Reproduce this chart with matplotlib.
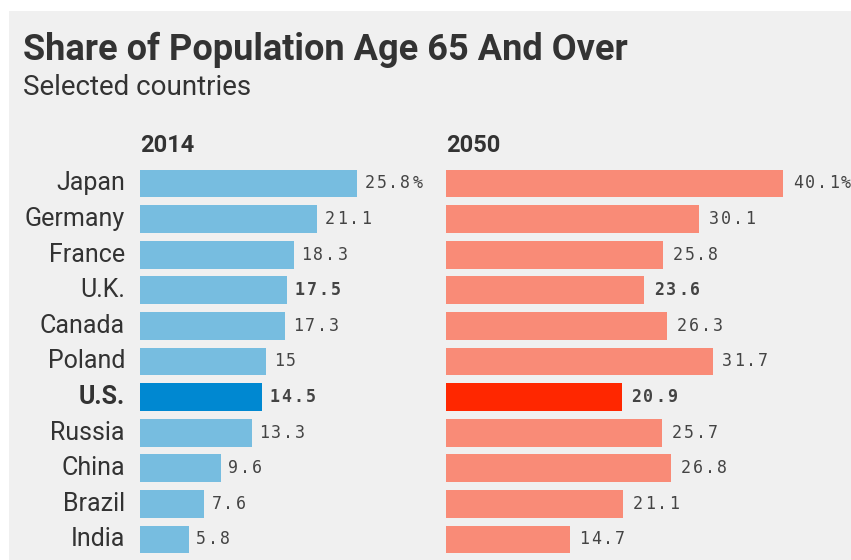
import matplotlib.pyplot as plt
from matplotlib.patches import Rectangle

# datos del grafico
countries = ['Japan', 'Germany', 'France', 'U.K.', 'Canada', 'Poland',
             'U.S.', 'Russia', 'China', 'Brazil', 'India']
share_2014 = [25.8, 21.1, 18.3, 17.5, 17.3, 15, 14.5, 13.3, 9.6, 7.6, 5.8]
share_2050 = [40.1, 30.1, 25.8, 23.6, 26.3, 31.7, 20.9, 25.7, 26.8, 21.1, 14.7]
bold_labels = ['U.K.', 'U.S.']
highlight = 'U.S.'

W, H = 851, 560
BG = '#f0f0f0'
TXT = '#333333'

fig = plt.figure(figsize=(W / 100, H / 100), dpi=100, facecolor='white')
fig.patches.append(Rectangle((9 / W, 0), 1 - 9 / W, 1 - 11 / H,
                             transform=fig.transFigure, facecolor=BG,
                             edgecolor='none', zorder=-10))

px = 8.41  # pixeles por punto porcentual
row = 35.6
top = 183.5 - row / 2
n = len(countries)
ax_h = n * row
pitch = 12 * 0.72  # separacion entre caracteres (puntos)


def make_axes(x0, xmax):
    ax = fig.add_axes([x0 / W, 1 - (top + ax_h) / H, xmax * px / W, ax_h / H])
    ax.set_xlim(0, xmax)
    ax.set_ylim(n - 0.5, -0.5)
    ax.axis('off')
    return ax


def spaced_label(ax, x, y, txt, bold, gap):
    # texto con espaciado ancho, caracter por caracter
    for k, ch in enumerate(txt):
        ax.annotate(ch, xy=(x, y), xytext=(gap * 0.72 + k * pitch, 0),
                    textcoords='offset points', ha='center', va='center',
                    fontsize=12, family='DejaVu Sans Mono', color='#444444',
                    fontweight='bold' if bold else 'normal')


def draw_panel(ax, values, color, color_hi, year, gap):
    for i, (c, v) in enumerate(zip(countries, values)):
        col = color_hi if c == highlight else color
        ax.barh(i, v, height=0.78, color=col, edgecolor='none')
        txt = f'{v:g}' + ('%' if i == 0 else '')
        spaced_label(ax, v, i, txt, c in bold_labels, gap)
    ax.text(0, -0.5 - 13.7 / row, year, ha='left', va='baseline', fontsize=17,
            fontweight='bold', family='Roboto', color=TXT)


ax1 = make_axes(140, 36)
ax2 = make_axes(446, 48)
draw_panel(ax1, share_2014, '#77bde0', '#0088d1', '2014', 12.5)
draw_panel(ax2, share_2050, '#f98b77', '#ff2700', '2050', 14.5)

for i, c in enumerate(countries):
    ax1.text(-15 / px, i, c, ha='right', va='center', fontsize=18,
             family='Roboto', color=TXT,
             fontweight='bold' if c == highlight else 'normal')

fig.text(23 / W, 1 - 60 / H, 'Share of Population Age 65 And Over',
         fontsize=26, fontweight='bold', family='Roboto', color=TXT,
         ha='left', va='baseline')
fig.text(23 / W, 1 - 95 / H, 'Selected countries', fontsize=20,
         family='Roboto', color=TXT, ha='left', va='baseline')

plt.savefig('out.png', dpi=100, facecolor=fig.get_facecolor())
plt.close()
